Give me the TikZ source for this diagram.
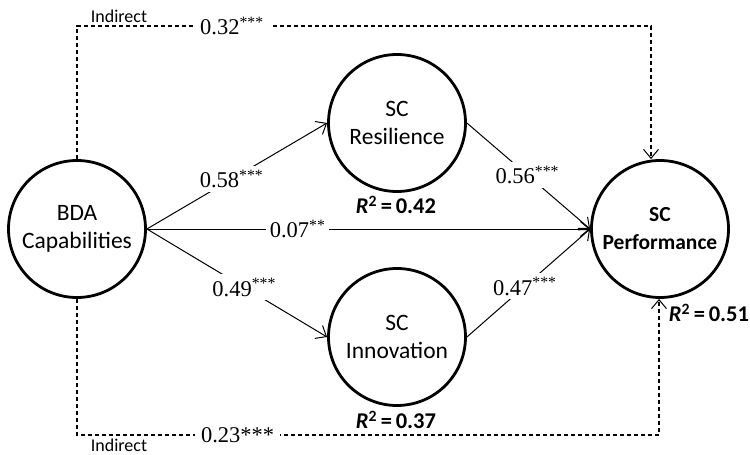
\documentclass[tikz,border=0pt]{standalone}
\usepackage{fontspec}
\setmainfont{Liberation Serif}
\newfontfamily\calfont{Carlito}
\usetikzlibrary{arrows.meta}
\tikzset{
  construct/.style={circle, draw, line width=2.8pt, minimum size=137pt, inner sep=0pt, align=center, font=\calfont\fontsize{23.5}{28}\selectfont},
  pathline/.style={line width=1pt, -{Straight Barb[length=9pt,width=15pt,line width=1pt]}},
  indirect/.style={line width=1.1pt, dash pattern=on 4pt off 3pt, -{Straight Barb[length=9pt,width=15pt,line width=1pt]}},
  coef/.style={fill=white, inner sep=4pt, font=\fontsize{22.5}{24}\selectfont},
  rsq/.style={font=\calfont\bfseries\fontsize{22.5}{24}\selectfont, inner sep=0pt},
  lbl/.style={font=\calfont\fontsize{18}{20}\selectfont, inner sep=0pt}
}
\begin{document}
\begin{tikzpicture}[x=1pt,y=-1pt]
\useasboundingbox (0,0) rectangle (750,455);
\node[construct] (bda) at (77,229) {BDA\\Capabilities};
\node[construct] (res) at (397,123) {SC\\Resilience};
\node[construct] (inn) at (397,337) {SC\\Innovation};
\node[construct, font=\calfont\bfseries\fontsize{21.5}{28}\selectfont] (perf) at (660,229) {SC\\Performance};

\draw[pathline] (bda.east) -- node[coef, pos=0.47] (c1) {0.58\textsuperscript{***}} (res.west);
\draw[pathline] (bda.east) -- node[coef, pos=0.54] (c2) {0.49\textsuperscript{***}} (inn.west);
\draw[pathline] (bda.east) -- node[coef, pos=0.34] (c3) {0.07\textsuperscript{**}} (perf.west);
\draw[pathline] (res.east) -- node[coef, pos=0.49] (c4) {0.56\textsuperscript{***}} (perf.west);
\draw[pathline] (inn.east) -- node[coef, pos=0.47] (c5) {0.47\textsuperscript{***}} (perf.west);

\coordinate (tl) at (77,26);
\coordinate (tr) at (651,26);
\coordinate (bl) at (77,435);
\coordinate (br) at (659,435);
\draw[indirect] (bda.north) -- (tl) -- node[coef, pos=0.27, inner sep=6pt] (c6) {0.32\textsuperscript{***}} (tr) -- (perf.north -| tr);
\draw[indirect] (bda.south) -- (bl) -- node[coef, pos=0.276, inner sep=6pt] (c7) {0.23***} (br) -- (perf.south -| br);

\node[lbl] (i1) at (119,16) {Indirect};
\node[lbl] (i2) at (119,445) {Indirect};

\node[rsq] (r1) at (396,205) {{\itshape R}\textsuperscript{2}\,=\,0.42};
\node[rsq] (r2) at (396,420) {{\itshape R}\textsuperscript{2}\,=\,0.37};
\node[rsq] (r3) at (709,313) {{\itshape R}\textsuperscript{2}\,=\,0.51};
\end{tikzpicture}
\end{document}
